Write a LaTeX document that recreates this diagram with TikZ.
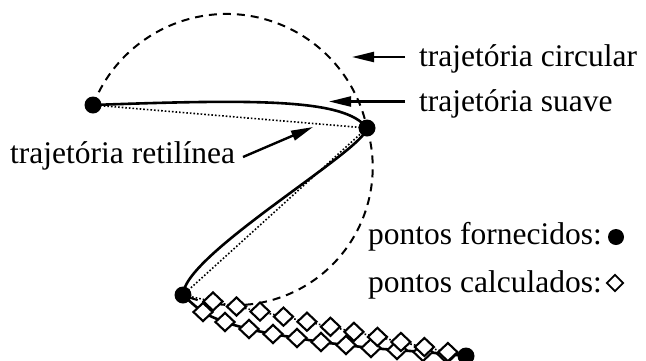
\documentclass[tikz,border=0pt]{standalone}
\usepackage{fontspec}
\setmainfont{Liberation Serif}
\usetikzlibrary{arrows.meta,shapes.geometric,calc}
\begin{document}
\begin{tikzpicture}[x=1pt,y=-1pt,
  dot/.style={circle,fill=black,inner sep=0pt,minimum size=17pt},
  calcpt/.style={diamond,draw=black,fill=white,line width=2.1pt,inner sep=0pt,minimum width=20pt,minimum height=19pt},
  lbl/.style={inner sep=0pt,font=\fontsize{31.5}{36}\selectfont},
  smoothpath/.style={line width=2.6pt},
  straightpath/.style={line width=1.6pt,dotted},
  circpath/.style={line width=2pt,dash pattern=on 8pt off 6pt},
  pointer/.style={line width=2.4pt,-{Triangle[length=22pt,width=10pt]}},
]
\useasboundingbox (0,0) rectangle (646,360);
% given points (coordinates first, dots drawn last)
\coordinate (P1) at (93,105);
\coordinate (P2) at (367,128);
\coordinate (P3) at (183,295);
\coordinate (P4) at (466,356);
% circular trajectory
\draw[circpath] (P1) arc[start angle=-158.55, end angle=-11.87, radius=143.5];
\draw[circpath] (P2) arc[start angle=-16.5, end angle=112, radius=138];
% straight trajectory
\draw[straightpath] (P1) -- (P2) -- (P3) -- (P4);
% smooth trajectory
\draw[smoothpath] (P1) .. controls (260,99) and (345,99) .. (P2)
  .. controls (365,150) and (183,255) .. (P3);
\foreach \px/\py [count=\i] in {203/312,225/322,249/329,273/334,297/338,321/342,346/345,371/348,397/350,423/352,447/354}
  \coordinate (l\i) at (\px,\py);
\draw[smoothpath] plot[smooth,tension=0.6] coordinates {(P3) (l1) (l2) (l3) (l4) (l5) (l6) (l7) (l8) (l9) (l10) (l11) (P4)};
% calculated points
\foreach \i in {1,...,11}
  \node[calcpt] (cl\i) at (l\i) {};
\foreach \f [count=\i] in {0.106,0.189,0.272,0.355,0.438,0.521,0.604,0.687,0.770,0.853,0.936}
  \node[calcpt] (cu\i) at ($(P3)!\f!(P4)$) {};
% given point dots
\node[dot] (n1) at (P1) {};
\node[dot] (n2) at (P2) {};
\node[dot] (n3) at (P3) {};
\node[dot] (n4) at (P4) {};
% labels
\node[lbl,anchor=base west] (lcirc) at (419,66) {trajetória circular};
\node[lbl,anchor=base west] (lsuave) at (419,111) {trajetória suave};
\node[lbl,anchor=base west] (lret) at (10,163) {trajetória retilínea};
\coordinate (a1s) at (405,57);
\coordinate (a1e) at (352,57);
\coordinate (a2s) at (405,101.5);
\coordinate (a2e) at (329,101.5);
\coordinate (a3s) at (243,157);
\coordinate (a3e) at (313,127);
\draw[pointer] (a1s) -- (a1e);
\draw[pointer] (a2s) -- (a2e);
\draw[pointer] (a3s) -- (a3e);
% legend
\node[lbl,anchor=base west] (lforn) at (368,244) {pontos fornecidos:};
\node[dot,minimum size=16pt] (kforn) at (616,237) {};
\node[lbl,anchor=base west] (lcalc) at (368,292) {pontos calculados:};
\node[calcpt,line width=1.7pt,minimum width=17pt,minimum height=17pt] (kcalc) at (615,283) {};
\end{tikzpicture}
\end{document}
